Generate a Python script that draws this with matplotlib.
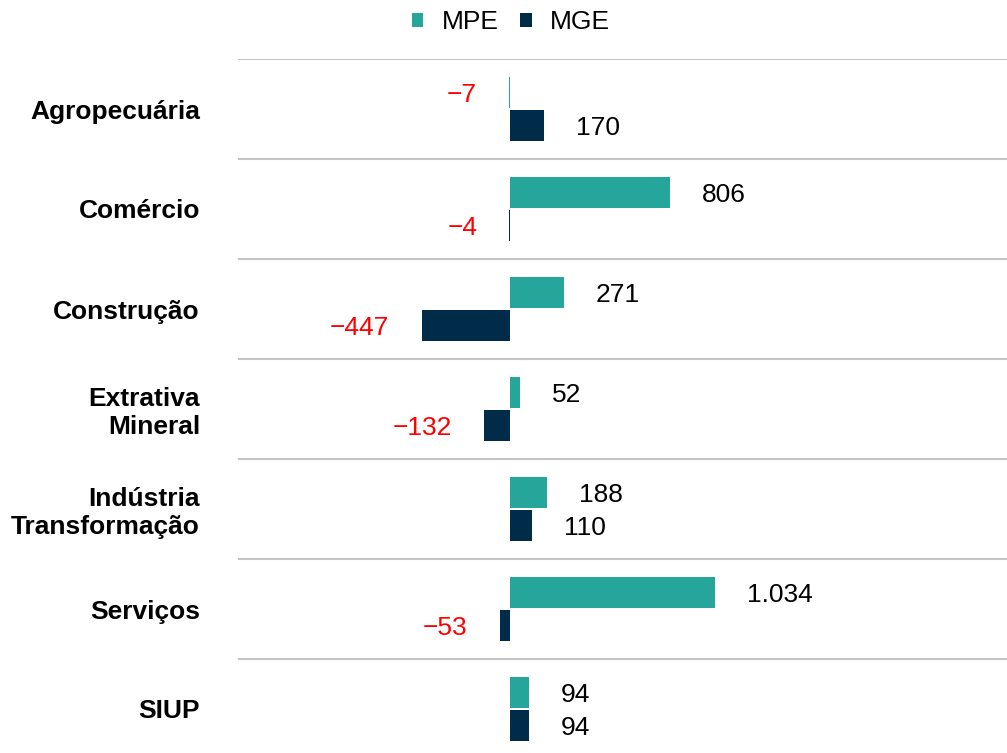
import numpy as np
import matplotlib.pyplot as plt

plt.rcParams['font.family'] = ['Liberation Sans', 'DejaVu Sans']

setores = ['Agropecuária', 'Comércio', 'Construção', 'Extrativa\nMineral',
           'Indústria\nTransformação', 'Serviços', 'SIUP']
mpe = [-7, 806, 271, 52, 188, 1034, 94]
mge = [170, -4, -447, -132, 110, -53, 94]

cor_mpe = '#26a69a'
cor_mge = '#002b49'

fig = plt.figure(figsize=(10.07, 7.53), dpi=100)
ax = fig.add_axes([238/1007, -6/753, 769/1007, 700/753])

y = np.arange(len(setores))
h = 0.31
ax.barh(y - 0.165, mpe, height=h, color=cor_mpe, label='MPE')
ax.barh(y + 0.165, mge, height=h, color=cor_mge, label='MGE')

def fmt(v):
    s = f"{abs(v):,}".replace(',', '.')
    return ('\u2212' + s) if v < 0 else s

# offset ~32 px from bar end
off_pt = 32 * 72 / 100
for serie, dy in [(mpe, -0.165), (mge, 0.165)]:
    for i, v in enumerate(serie):
        if v < 0:
            ax.annotate(fmt(v), (v, i + dy), xytext=(-off_pt, -1.5), textcoords='offset points',
                        ha='right', va='center', fontsize=19, color='red')
        else:
            ax.annotate(fmt(v), (v, i + dy), xytext=(off_pt, -1.5), textcoords='offset points',
                        ha='left', va='center', fontsize=19, color='black')

ax.set_xlim(-1374, 2510)
ax.set_ylim(len(setores) - 0.5, -0.5)

for b in np.arange(len(setores)) - 0.5:
    ax.axhline(b, color='#c4c4c4', lw=1.5, zorder=0)

ax.set_yticks(y)
ax.set_yticklabels(setores, fontsize=19, fontweight='bold', linespacing=1.2)
ax.tick_params(axis='y', length=0, pad=38 * 72 / 100)
ax.set_xticks([])
for s in ax.spines.values():
    s.set_visible(False)

leg = fig.legend(loc='center', bbox_to_anchor=(511/1007, 1 - 22/753), ncol=2, frameon=False,
                 fontsize=19, handlelength=0.45, handleheight=0.45, handletextpad=0.7,
                 columnspacing=0.8)

fig.savefig('out.png', dpi=100)
